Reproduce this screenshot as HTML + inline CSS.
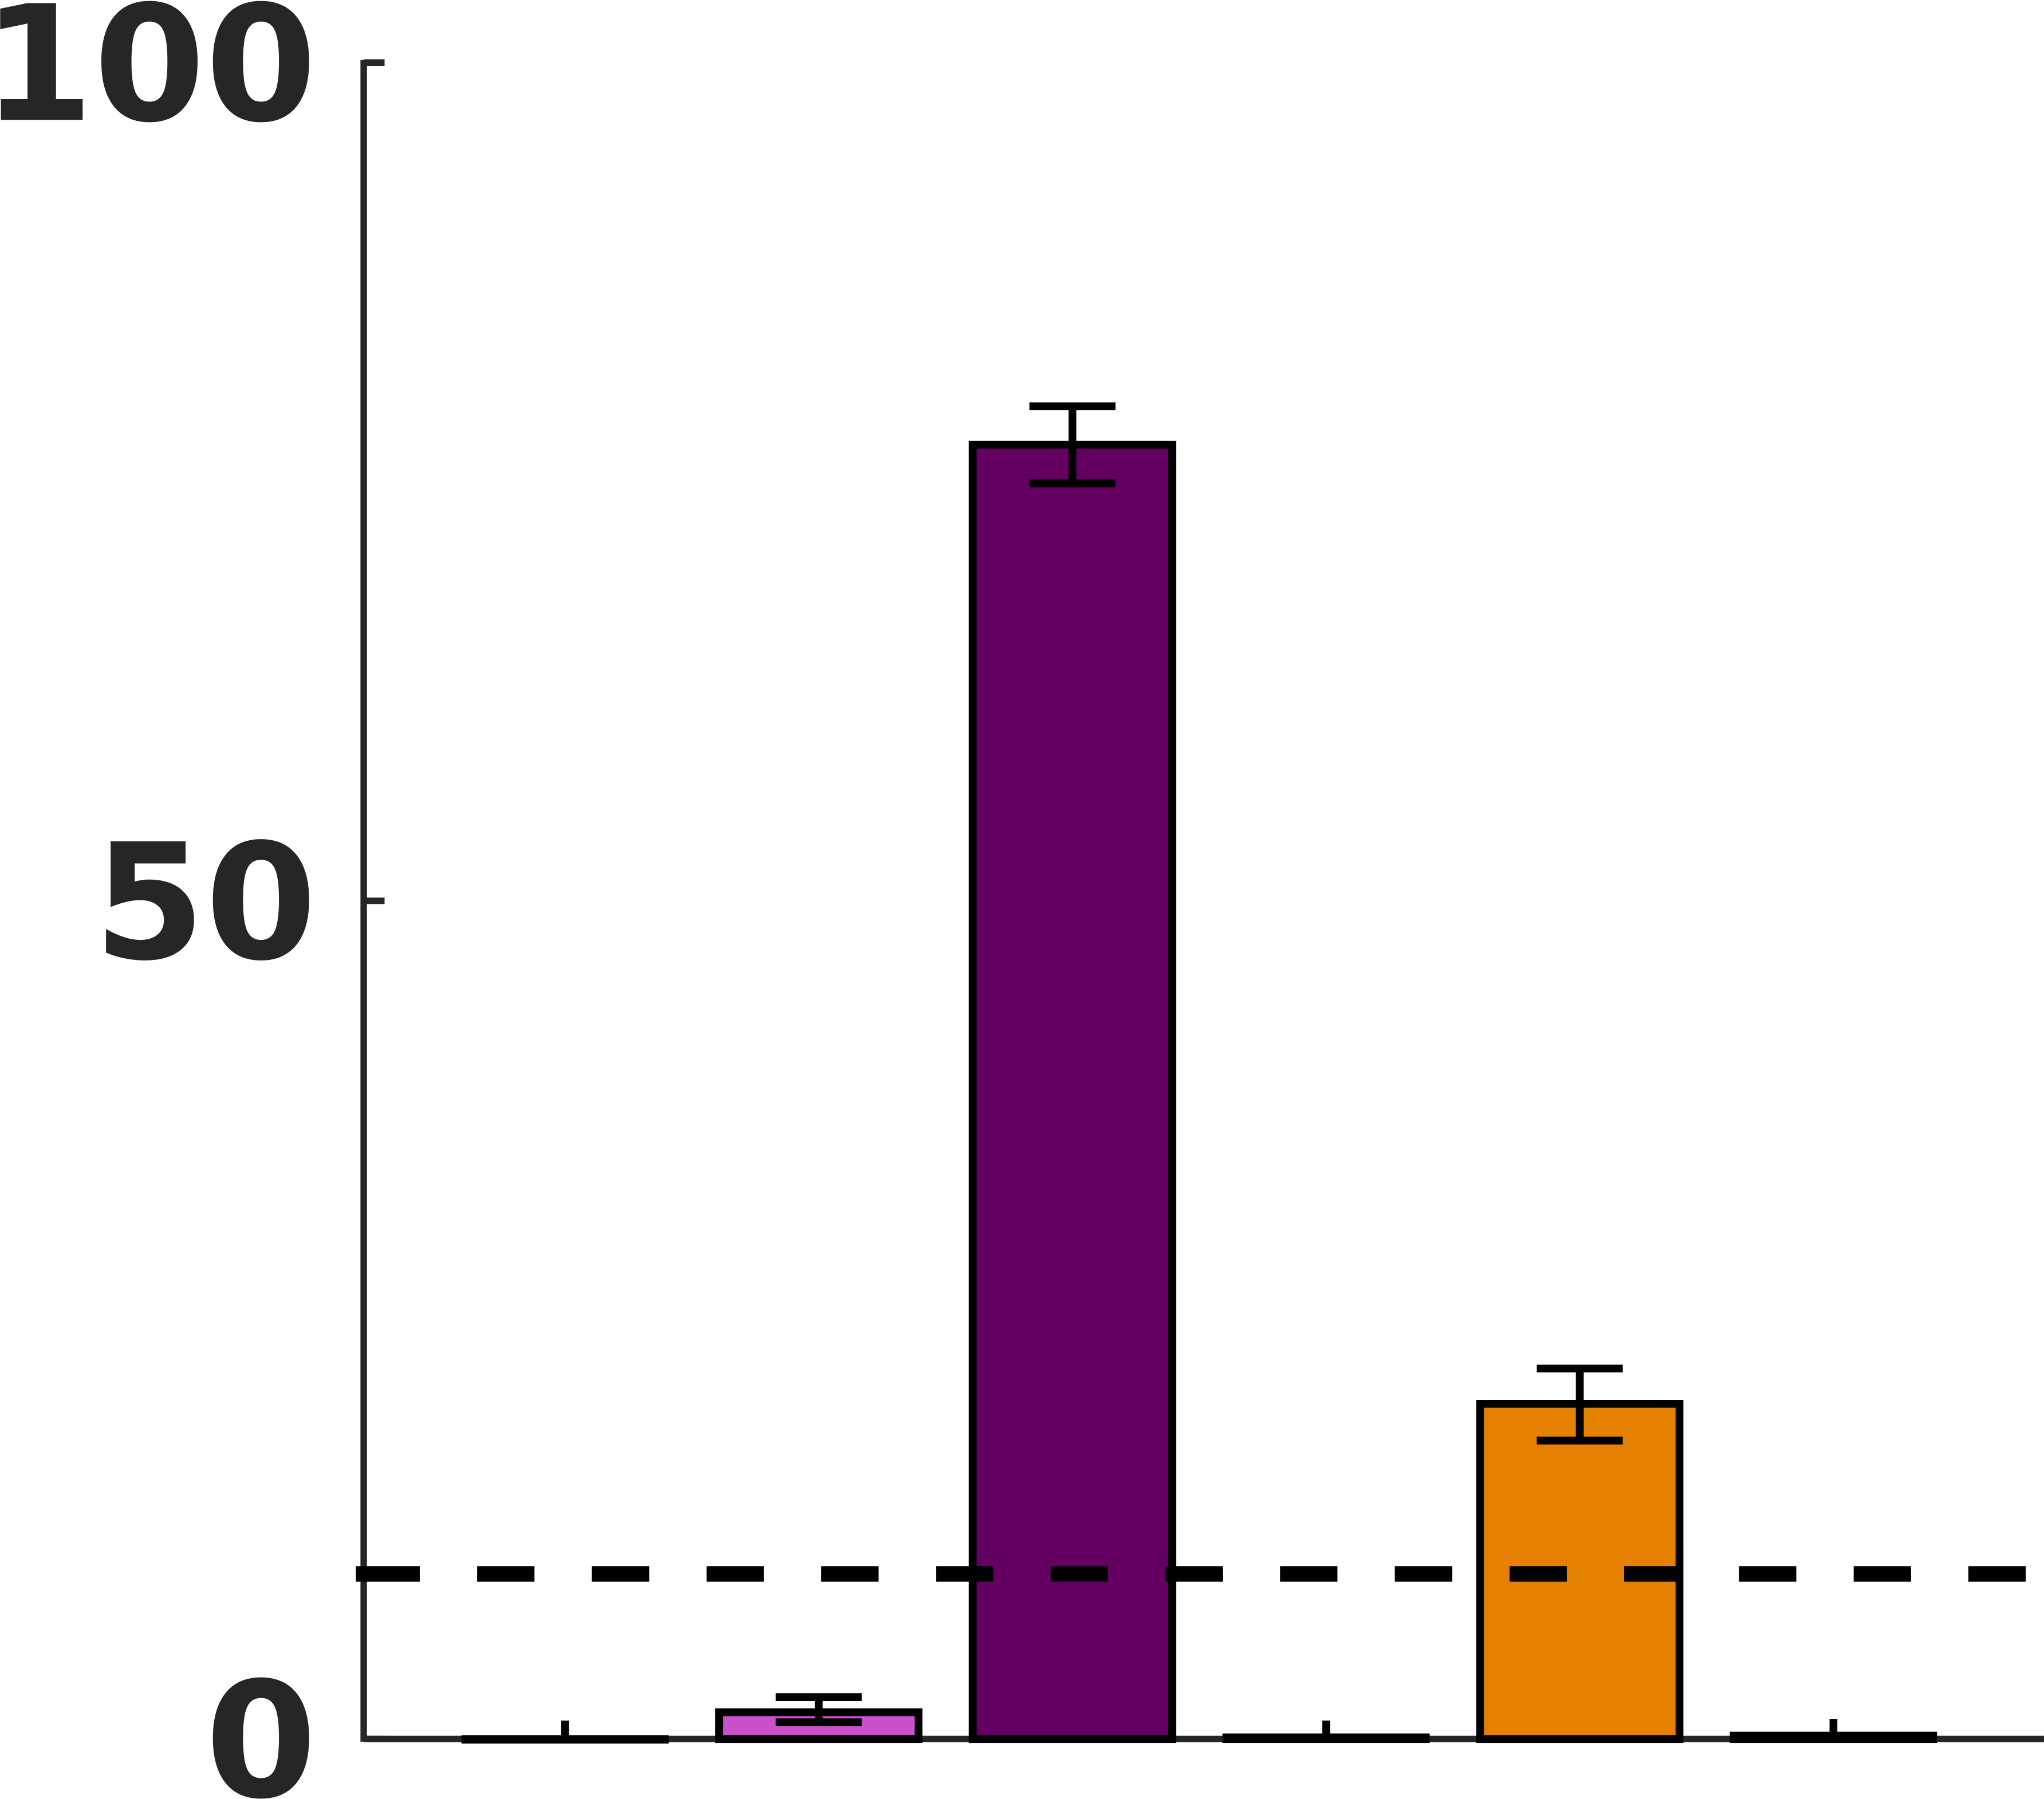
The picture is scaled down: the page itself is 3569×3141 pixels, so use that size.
<!DOCTYPE html>
<html><head><meta charset="utf-8"><style>html,body{margin:0;padding:0;background:#fff}svg{display:block}</style></head>
<body>
<svg width="3569" height="3141" viewBox="0 0 1568 1380" xmlns="http://www.w3.org/2000/svg">
<g id="axes"></g>
<g id="bars"></g>
<g id="refline"></g>
</svg>
<script>
const categories = ["c1","c2","c3","c4","c5","c6"];
const values = [0, 1.6, 77.2, 0.1, 20, 0.2];
const errLow = [0, 1.0, 74.9, 0, 17.8, 0];
const errHigh = [1.1, 2.5, 79.5, 1.1, 22.1, 1.2];
const colors = ["#ffffff","#cc4fcc","#630061","#ffffff","#e58000","#ffffff"];
const yTicks = [0, 50, 100];
const refValue = 9.85;

const NS = "http://www.w3.org/2000/svg";
const x0 = 279, yTop = 48, yZero = 1334;
function y(v){ return yZero - (v/100)*(yZero-yTop); }
function xLeft(i){ return 357 + i*194.6; }
const barW = 153;
function mk(tag, attrs, parent){ const e=document.createElementNS(NS,tag); for(const k in attrs) e.setAttribute(k,attrs[k]); parent.appendChild(e); return e; }

const axes = document.getElementById("axes");
const bars = document.getElementById("bars");
const ref = document.getElementById("refline");

let xa = mk("line",{x1:x0,y1:yZero,x2:1568,y2:yZero,stroke:"#262626","stroke-width":5},axes);


let ya = mk("line",{x1:x0,y1:yTop-2,x2:x0,y2:yZero+2,stroke:"#262626","stroke-width":5},axes);


yTicks.forEach(t=>{
  let tk = mk("line",{x1:x0,y1:y(t),x2:x0+16,y2:y(t),stroke:"#262626","stroke-width":5},axes);
  
  
  let tx = mk("text",{x:243,y:y(t)+44,"text-anchor":"end","font-family":"DejaVu Sans, sans-serif","font-weight":"bold","font-size":123,fill:"#262626"},axes);
  tx.textContent = t;
  
  
});

categories.forEach((c,i)=>{
  const xl = xLeft(i), cx = xl + barW/2;
  const top = y(values[i]);
  let r = mk("rect",{x:xl,y:top,width:barW,height:Math.max(yZero-top,0.5),fill:colors[i],stroke:"#000","stroke-width":6},bars);
  
  
  let g = mk("g",{stroke:"#000","stroke-width":6},bars);
  
  
  mk("line",{x1:cx,y1:y(errLow[i]),x2:cx,y2:y(errHigh[i])},g);
  if (values[i] > 0.5) {
    mk("line",{x1:cx-33,y1:y(errHigh[i]),x2:cx+33,y2:y(errHigh[i])},g);
    mk("line",{x1:cx-33,y1:y(errLow[i]),x2:cx+33,y2:y(errLow[i])},g);
  }
});

let rl0 = mk("line",{x1:273,y1:y(refValue),x2:278,y2:y(refValue),stroke:"#000","stroke-width":12},ref);


let rl = mk("line",{x1:278,y1:y(refValue),x2:1568,y2:y(refValue),stroke:"#000","stroke-width":12,"stroke-dasharray":"44 44"},ref);


</script>
</body></html>
